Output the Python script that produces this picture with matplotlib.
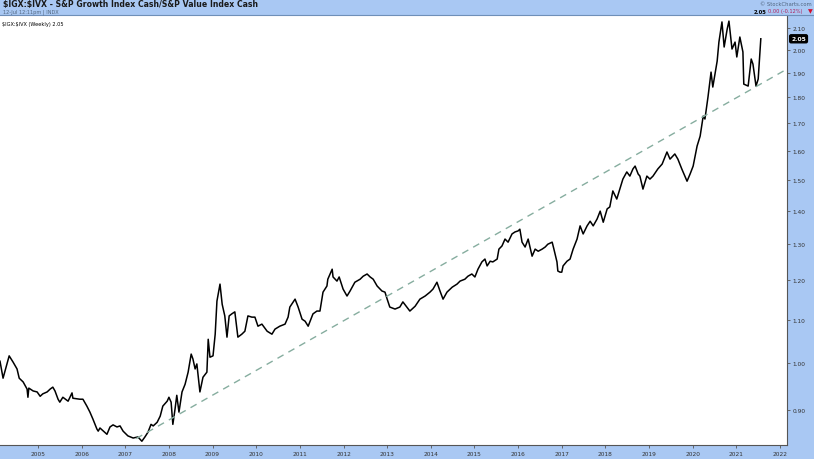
import matplotlib
matplotlib.use('Agg')
import matplotlib.pyplot as plt
import numpy as np

plt.rcParams['font.family'] = ['DejaVu Sans']

# 周线数据（十进制年份, $IGX:$IVX 比值）
years = [2004.13, 2004.20, 2004.27, 2004.34, 2004.43, 2004.52, 2004.57, 2004.66, 2004.75, 2004.77,
         2004.79, 2004.89, 2004.98, 2005.05, 2005.11, 2005.21, 2005.28, 2005.34, 2005.39, 2005.46,
         2005.50, 2005.57, 2005.69, 2005.78, 2005.80, 2005.96, 2006.03, 2006.12, 2006.19, 2006.26,
         2006.35, 2006.38, 2006.42, 2006.58, 2006.65, 2006.72, 2006.81, 2006.88, 2006.95, 2007.06,
         2007.18, 2007.29, 2007.38, 2007.45, 2007.52, 2007.59, 2007.64, 2007.73, 2007.80, 2007.86,
         2007.96, 2008.00, 2008.05, 2008.09, 2008.14, 2008.18, 2008.23, 2008.30, 2008.37, 2008.44,
         2008.51, 2008.55, 2008.60, 2008.64, 2008.71, 2008.78, 2008.87, 2008.90, 2008.94, 2009.01,
         2009.06, 2009.10, 2009.17, 2009.22, 2009.28, 2009.33, 2009.38, 2009.44, 2009.51, 2009.58,
         2009.67, 2009.74, 2009.81, 2009.90, 2009.97, 2010.04, 2010.13, 2010.25, 2010.36, 2010.43,
         2010.54, 2010.66, 2010.73, 2010.77, 2010.89, 2010.96, 2011.05, 2011.12, 2011.19, 2011.30,
         2011.39, 2011.46, 2011.53, 2011.62, 2011.64, 2011.74, 2011.76, 2011.85, 2011.90, 2011.99,
         2012.08, 2012.15, 2012.26, 2012.38, 2012.45, 2012.54, 2012.61, 2012.68, 2012.77, 2012.88,
         2012.95, 2013.00, 2013.06, 2013.18, 2013.29, 2013.36, 2013.45, 2013.52, 2013.64, 2013.75,
         2013.87, 2013.98, 2014.05, 2014.14, 2014.21, 2014.28, 2014.37, 2014.49, 2014.60, 2014.67,
         2014.78, 2014.85, 2014.94, 2015.01, 2015.08, 2015.17, 2015.24, 2015.29, 2015.36, 2015.42,
         2015.52, 2015.56, 2015.63, 2015.70, 2015.77, 2015.86, 2015.93, 2016.00, 2016.04, 2016.09,
         2016.16, 2016.23, 2016.32, 2016.39, 2016.46, 2016.55, 2016.62, 2016.68, 2016.78, 2016.82,
         2016.89, 2016.91, 2016.96, 2017.00, 2017.03, 2017.12, 2017.19, 2017.26, 2017.35, 2017.42,
         2017.49, 2017.58, 2017.65, 2017.72, 2017.81, 2017.88, 2017.95, 2018.04, 2018.10, 2018.17,
         2018.26, 2018.33, 2018.40, 2018.49, 2018.56, 2018.63, 2018.68, 2018.75, 2018.79, 2018.86,
         2018.95, 2019.02, 2019.09, 2019.20, 2019.30, 2019.41, 2019.48, 2019.59, 2019.66, 2019.75,
         2019.82, 2019.87, 2019.94, 2020.01, 2020.10, 2020.17, 2020.24, 2020.28, 2020.35, 2020.42,
         2020.46, 2020.56, 2020.60, 2020.67, 2020.72, 2020.79, 2020.83, 2020.90, 2020.97, 2021.01,
         2021.08, 2021.15, 2021.17, 2021.27, 2021.34, 2021.38, 2021.45, 2021.50, 2021.56]
ratio = [1.003, 0.966, 0.990, 1.015, 1.001, 0.986, 0.966, 0.958, 0.943, 0.926,
         0.945, 0.939, 0.937, 0.928, 0.933, 0.937, 0.943, 0.947, 0.939, 0.922,
         0.916, 0.926, 0.918, 0.935, 0.924, 0.922, 0.922, 0.908, 0.896, 0.882,
         0.863, 0.859, 0.865, 0.853, 0.867, 0.871, 0.867, 0.869, 0.859, 0.850,
         0.846, 0.848, 0.840, 0.848, 0.857, 0.872, 0.869, 0.876, 0.888, 0.908,
         0.918, 0.926, 0.916, 0.872, 0.902, 0.930, 0.896, 0.937, 0.953, 0.979,
         1.019, 1.008, 0.986, 0.997, 0.937, 0.968, 0.979, 1.053, 1.012, 1.015,
         1.065, 1.146, 1.190, 1.138, 1.109, 1.058, 1.109, 1.114, 1.119, 1.058,
         1.065, 1.072, 1.109, 1.106, 1.106, 1.084, 1.089, 1.072, 1.065, 1.077,
         1.084, 1.089, 1.106, 1.131, 1.151, 1.131, 1.101, 1.096, 1.084, 1.114,
         1.121, 1.121, 1.169, 1.185, 1.203, 1.230, 1.209, 1.198, 1.209, 1.177,
         1.159, 1.172, 1.195, 1.203, 1.211, 1.217, 1.209, 1.203, 1.185, 1.172,
         1.169, 1.151, 1.131, 1.126, 1.131, 1.144, 1.131, 1.121, 1.133, 1.151,
         1.159, 1.169, 1.177, 1.195, 1.172, 1.151, 1.169, 1.182, 1.190, 1.198,
         1.203, 1.211, 1.217, 1.209, 1.230, 1.250, 1.258, 1.239, 1.252, 1.250,
         1.258, 1.286, 1.295, 1.315, 1.306, 1.330, 1.336, 1.339, 1.344, 1.306,
         1.292, 1.315, 1.266, 1.286, 1.280, 1.286, 1.292, 1.300, 1.306, 1.286,
         1.250, 1.225, 1.222, 1.222, 1.239, 1.252, 1.258, 1.286, 1.315, 1.354,
         1.330, 1.354, 1.368, 1.354, 1.375, 1.399, 1.365, 1.406, 1.412, 1.463,
         1.437, 1.469, 1.502, 1.526, 1.512, 1.536, 1.546, 1.519, 1.512, 1.469,
         1.512, 1.502, 1.512, 1.536, 1.553, 1.595, 1.570, 1.588, 1.570, 1.536,
         1.512, 1.495, 1.519, 1.546, 1.616, 1.652, 1.727, 1.716, 1.802, 1.904,
         1.842, 1.951, 2.035, 2.128, 2.013, 2.095, 2.132, 2.004, 2.035, 1.969,
         2.058, 1.991, 1.854, 1.846, 1.960, 1.938, 1.846, 1.875, 2.05]

# 趋势线端点（年份, 比值）
trend_years = [2007.25, 2022.16]
trend_ratio = [0.845, 1.917]

y_ticks = [0.90, 1.00, 1.10, 1.20, 1.30, 1.40, 1.50, 1.60, 1.70, 1.80, 1.90, 2.00, 2.10]
x_years = list(range(2005, 2023))

frame_blue = '#a9c8f3'
fig = plt.figure(figsize=(8.14, 4.6), dpi=100)
fig.patch.set_facecolor(frame_blue)

ax = fig.add_axes([0.0, 14 / 460, 787 / 814, 430 / 460])
ax.set_facecolor('white')

ax.plot(years, ratio, color='black', linewidth=1.1, solid_joinstyle='round')
ax.plot(trend_years, trend_ratio, color='#86ad9f', linewidth=1.0, dashes=(5, 4))

ax.set_yscale('log')
ax.set_ylim(0.833, 2.161)
ax.set_xlim(2004.13, 2022.16)

ax.yaxis.tick_right()
ax.set_yticks(y_ticks)
ax.set_yticklabels([f'{v:.2f}' for v in y_ticks])
ax.yaxis.set_minor_locator(matplotlib.ticker.NullLocator())
ax.set_xticks(x_years)
ax.set_xticklabels([str(y) for y in x_years])
ax.tick_params(axis='both', labelsize=4.2, labelcolor='#333333', color='#555555',
               length=2, width=0.6, pad=2)

for side in ['left', 'top']:
    ax.spines[side].set_visible(False)
for side in ['right', 'bottom']:
    ax.spines[side].set_color('#555555')
    ax.spines[side].set_linewidth(0.8)

# 顶部分隔线
fig.add_artist(plt.Line2D([0, 1], [1 - 15.5 / 460, 1 - 15.5 / 460], color='#6f8fb8', linewidth=0.8))

# 最新值标签
ax.annotate('2.05', xy=(1.0, 2.05), xycoords=('axes fraction', 'data'),
            xytext=(3, 0), textcoords='offset points', va='center', ha='left',
            fontsize=4.3, color='white', fontweight='bold',
            bbox=dict(boxstyle='round,pad=0.25', fc='black', ec='black'))

# 标题与说明
fig.text(0.004, 1 - 5 / 460, r'\$IGX:\$IVX - S&P Growth Index Cash/S&P Value Index Cash',
         fontsize=5.6, fontweight='bold', color='#1a1a1a', va='center', ha='left')
fig.text(0.004, 1 - 12 / 460, '12-Jul 12:11pm | INDX', fontsize=3.6, color='#50657f',
         va='center', ha='left')
fig.text(0.997, 1 - 4 / 460, '© StockCharts.com', fontsize=3.8, color='#50657f',
         va='center', ha='right')
fig.text(766 / 814, 1 - 12 / 460, '2.05', fontsize=3.8, fontweight='bold', color='black',
         va='center', ha='right')
fig.text(802 / 814, 1 - 12 / 460, '0.00 (-0.12%)', fontsize=3.6, color='#b0205a',
         va='center', ha='right')
fig.text(0.998, 1 - 12 / 460, '▼', fontsize=4.5, color='#d01030', va='center', ha='right')
ax.text(0.003, 0.985, r'\$IGX:\$IVX (Weekly) 2.05', transform=ax.transAxes, fontsize=3.6,
        color='black', va='top', ha='left')

plt.savefig('out.png', dpi=100, facecolor=fig.get_facecolor())
